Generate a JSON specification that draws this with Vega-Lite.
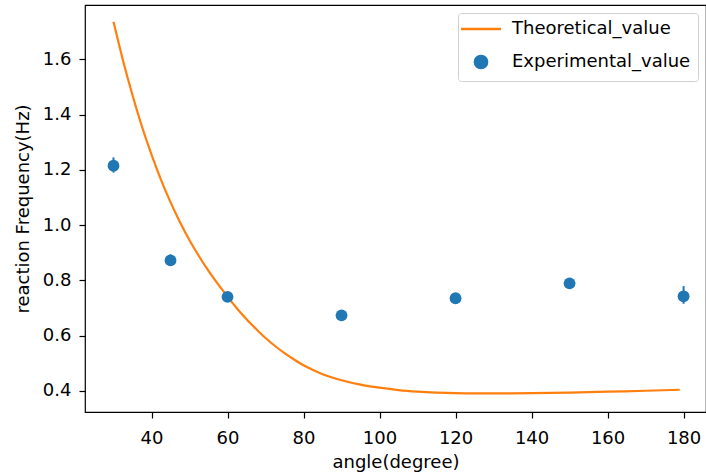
{
  "$schema": "https://vega.github.io/schema/vega-lite/v6.json",
  "width": 621,
  "height": 407,
  "autosize": {"type": "none"},
  "padding": {"left": 85, "top": 5, "right": 0, "bottom": 63},
  "background": "white",
  "datasets": {
    "theory": [
      {"angle": 30, "value": 1.736, "series": "Theoretical_value"},
      {"angle": 32.5, "value": 1.596, "series": "Theoretical_value"},
      {"angle": 35, "value": 1.470, "series": "Theoretical_value"},
      {"angle": 37.5, "value": 1.356, "series": "Theoretical_value"},
      {"angle": 40, "value": 1.255, "series": "Theoretical_value"},
      {"angle": 42.5, "value": 1.164, "series": "Theoretical_value"},
      {"angle": 45, "value": 1.083, "series": "Theoretical_value"},
      {"angle": 47.5, "value": 1.010, "series": "Theoretical_value"},
      {"angle": 50, "value": 0.945, "series": "Theoretical_value"},
      {"angle": 52.5, "value": 0.887, "series": "Theoretical_value"},
      {"angle": 55, "value": 0.834, "series": "Theoretical_value"},
      {"angle": 57.5, "value": 0.786, "series": "Theoretical_value"},
      {"angle": 60, "value": 0.741, "series": "Theoretical_value"},
      {"angle": 62.5, "value": 0.698, "series": "Theoretical_value"},
      {"angle": 65, "value": 0.659, "series": "Theoretical_value"},
      {"angle": 67.5, "value": 0.624, "series": "Theoretical_value"},
      {"angle": 70, "value": 0.591, "series": "Theoretical_value"},
      {"angle": 72.5, "value": 0.562, "series": "Theoretical_value"},
      {"angle": 75, "value": 0.536, "series": "Theoretical_value"},
      {"angle": 77.5, "value": 0.513, "series": "Theoretical_value"},
      {"angle": 80, "value": 0.492, "series": "Theoretical_value"},
      {"angle": 82.5, "value": 0.475, "series": "Theoretical_value"},
      {"angle": 85, "value": 0.460, "series": "Theoretical_value"},
      {"angle": 87.5, "value": 0.448, "series": "Theoretical_value"},
      {"angle": 90, "value": 0.438, "series": "Theoretical_value"},
      {"angle": 95, "value": 0.422, "series": "Theoretical_value"},
      {"angle": 100, "value": 0.411, "series": "Theoretical_value"},
      {"angle": 105, "value": 0.4025, "series": "Theoretical_value"},
      {"angle": 110, "value": 0.397, "series": "Theoretical_value"},
      {"angle": 115, "value": 0.3935, "series": "Theoretical_value"},
      {"angle": 120, "value": 0.3913, "series": "Theoretical_value"},
      {"angle": 125, "value": 0.3903, "series": "Theoretical_value"},
      {"angle": 130, "value": 0.3903, "series": "Theoretical_value"},
      {"angle": 135, "value": 0.3908, "series": "Theoretical_value"},
      {"angle": 140, "value": 0.3915, "series": "Theoretical_value"},
      {"angle": 150, "value": 0.3935, "series": "Theoretical_value"},
      {"angle": 160, "value": 0.3965, "series": "Theoretical_value"},
      {"angle": 170, "value": 0.400, "series": "Theoretical_value"},
      {"angle": 179, "value": 0.4035, "series": "Theoretical_value"}
    ],
    "experiment": [
      {"angle": 30, "value": 1.215, "lo": 1.19, "hi": 1.245, "series": "Experimental_value"},
      {"angle": 45, "value": 0.872, "lo": 0.855, "hi": 0.894, "series": "Experimental_value"},
      {"angle": 60, "value": 0.74, "lo": 0.728, "hi": 0.752, "series": "Experimental_value"},
      {"angle": 90, "value": 0.673, "lo": 0.665, "hi": 0.681, "series": "Experimental_value"},
      {"angle": 120, "value": 0.735, "lo": 0.727, "hi": 0.743, "series": "Experimental_value"},
      {"angle": 150, "value": 0.789, "lo": 0.777, "hi": 0.801, "series": "Experimental_value"},
      {"angle": 180, "value": 0.742, "lo": 0.715, "hi": 0.779, "series": "Experimental_value"}
    ]
  },
  "layer": [
    {
      "data": {"name": "theory"},
      "mark": {"type": "line", "strokeWidth": 2.2, "interpolate": "monotone", "clip": true},
      "encoding": {
        "x": {"field": "angle", "type": "quantitative"},
        "y": {"field": "value", "type": "quantitative"},
        "color": {"field": "series", "type": "nominal"}
      }
    },
    {
      "data": {"name": "experiment"},
      "mark": {"type": "rule", "strokeWidth": 2, "color": "#1f77b4"},
      "encoding": {
        "x": {"field": "angle", "type": "quantitative"},
        "y": {"field": "lo", "type": "quantitative"},
        "y2": {"field": "hi"}
      }
    },
    {
      "data": {"name": "experiment"},
      "mark": {"type": "point", "filled": true, "opacity": 1, "size": 140, "shape": "circle"},
      "encoding": {
        "x": {"field": "angle", "type": "quantitative"},
        "y": {"field": "value", "type": "quantitative"},
        "color": {"field": "series", "type": "nominal"}
      }
    }
  ],
  "resolve": {"scale": {"color": "shared"}},
  "encoding": {
    "x": {
      "field": "angle",
      "type": "quantitative",
      "title": "angle(degree)",
      "scale": {"domain": [22.5, 185.9], "nice": false, "zero": false},
      "axis": {"values": [40, 60, 80, 100, 120, 140, 160, 180], "grid": false, "domain": false, "labelPadding": 11, "titlePadding": 6}
    },
    "y": {
      "field": "value",
      "type": "quantitative",
      "title": "reaction Frequency(Hz)",
      "scale": {"domain": [0.323, 1.797], "nice": false, "zero": false},
      "axis": {"values": [0.4, 0.6, 0.8, 1.0, 1.2, 1.4, 1.6], "format": ".1f", "grid": false, "domain": false, "labelPadding": 8, "titlePadding": 10}
    },
    "color": {
      "field": "series",
      "type": "nominal",
      "scale": {"domain": ["Theoretical_value", "Experimental_value"], "range": ["#ff7f0e", "#1f77b4"]},
      "legend": {
        "title": null,
        "orient": "top-right",
        "offset": 8,
        "padding": 7,
        "fillColor": "white",
        "strokeColor": "#d0d0d0",
        "cornerRadius": 3,
        "labelFontSize": 18,
        "labelFont": "DejaVu Sans",
        "labelColor": "#000000",
        "labelLimit": 0,
        "symbolSize": 150,
        "symbolOffset": 7,
        "labelOffset": 22,
        "rowPadding": 12,
        "encode": {
          "symbols": {
            "update": {
              "shape": {"signal": "datum.value === 'Theoretical_value' ? 'stroke' : 'circle'"},
              "size": {"signal": "datum.value === 'Theoretical_value' ? 1600 : 150"},
              "stroke": {"signal": "datum.value === 'Theoretical_value' ? '#ff7f0e' : 'transparent'"},
              "strokeWidth": {"value": 2.5},
              "fill": {"signal": "datum.value === 'Theoretical_value' ? 'transparent' : '#1f77b4'"},
              "opacity": {"value": 1}
            }
          }
        }
      }
    }
  },
  "config": {
    "font": "DejaVu Sans",
    "view": {"stroke": "#000000", "strokeWidth": 1.2},
    "axis": {
      "labelFont": "DejaVu Sans",
      "labelFontSize": 18,
      "labelColor": "#000000",
      "titleFont": "DejaVu Sans",
      "titleFontSize": 18,
      "titleFontWeight": "normal",
      "titleColor": "#000000",
      "tickColor": "#000000",
      "tickSize": 6,
      "tickWidth": 1.2
    }
  }
}
